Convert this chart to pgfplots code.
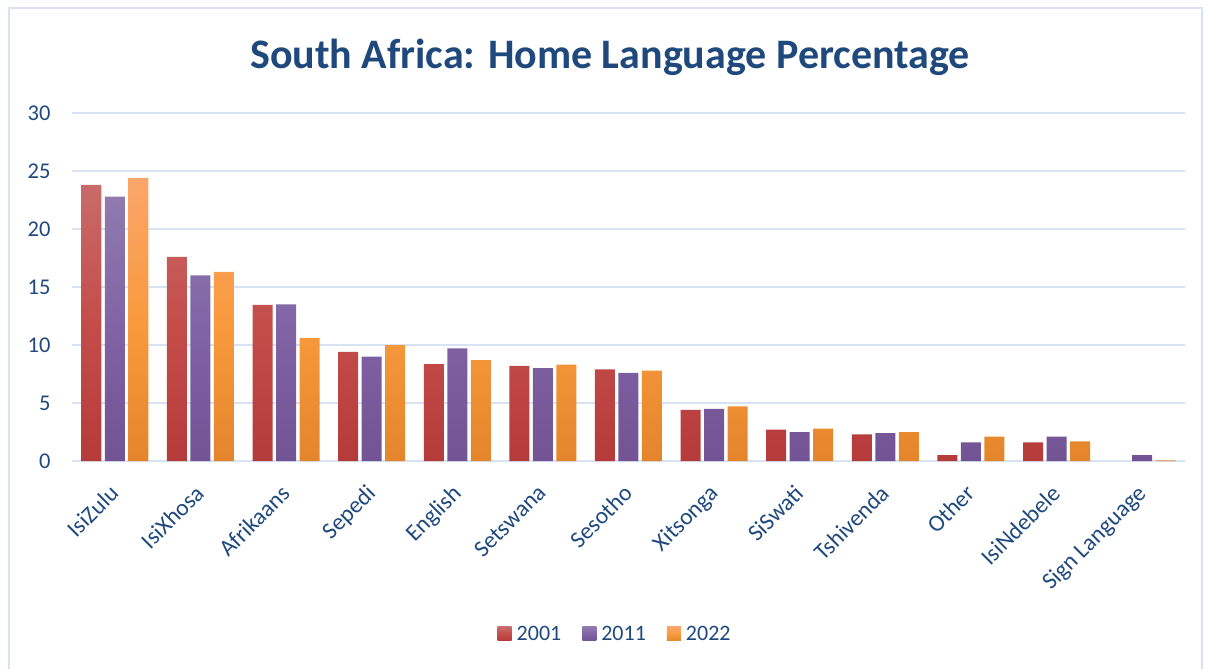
\documentclass[border=0pt]{standalone}
\usepackage{pgfplots}
\usepackage{pgfplotstable}
\pgfplotsset{compat=1.18}
\usepackage{fontspec}
\setmainfont{Carlito}
\definecolor{gridc}{HTML}{D7E2F2}
\definecolor{txt}{HTML}{1F497D}
\definecolor{rA}{HTML}{C86B6A}\definecolor{rB}{HTML}{C44D4A}\definecolor{rC}{HTML}{B53B3B}
\definecolor{pA}{HTML}{907AAE}\definecolor{pB}{HTML}{8063A5}\definecolor{pC}{HTML}{725394}
\definecolor{oA}{HTML}{FAA56A}\definecolor{oB}{HTML}{F99A3E}\definecolor{oC}{HTML}{E5852B}
\pgfplotstableread{
idx y2001 y2011 y2022
0 23.8 22.8 24.4
1 17.6 16.0 16.3
2 13.45 13.5 10.6
3 9.4 9.0 10.0
4 8.35 9.7 8.7
5 8.2 8.0 8.3
6 7.9 7.6 7.8
7 4.4 4.5 4.7
8 2.7 2.5 2.8
9 2.3 2.4 2.5
10 0.5 1.6 2.1
11 1.6 2.1 1.7
12 nan 0.5 0.05
}\datatable
\begin{document}
\begin{tikzpicture}
\begin{axis}[
  scale only axis,
  width=1113pt, height=348pt,
  ymin=0, ymax=30, xmin=-0.5, xmax=12.5,
  ytick={0,5,...,30}, xtick={0,...,12},
  xticklabels={IsiZulu,IsiXhosa,Afrikaans,Sepedi,English,Setswana,Sesotho,Xitsonga,SiSwati,Tshivenda,Other,IsiNdebele,Sign Language},
  ymajorgrids, grid style={gridc, line width=2pt},
  axis line style={draw=none},
  major tick length=0pt,
  /pgf/number format/assume math mode=true,
  yticklabel style={font=\fontsize{22.5}{26}\selectfont, text=txt, xshift=-18pt},
  xticklabel style={font=\fontsize{23.5}{27}\selectfont, text=txt, xshift=-6.5pt, yshift=-17.5pt, rotate=45, anchor=north east},
  ybar=3.5pt, bar width=20pt,
  legend style={at={(0.488,-0.497)}, anchor=center, draw=none, legend columns=3,
    font=\fontsize{22}{26}\selectfont, text=txt,
    /tikz/every odd column/.append style={column sep=3pt},
    /tikz/every even column/.append style={column sep=19pt}},
  legend image code/.code={\path[#1,draw=none] (0pt,-7pt) rectangle (14pt,7pt);},
]
\addplot[draw=none, top color=rA, bottom color=rC, middle color=rB] table[x=idx,y=y2001] {\datatable};
\addplot[draw=none, top color=pA, bottom color=pC, middle color=pB] table[x=idx,y=y2011] {\datatable};
\addplot[draw=none, top color=oA, bottom color=oC, middle color=oB] table[x=idx,y=y2022] {\datatable};
\legend{2001,2011,2022}
\coordinate (bl) at (rel axis cs:0,0);
\end{axis}
\pgfresetboundingbox
\useasboundingbox ([shift={(-72pt,-208pt)}]bl) rectangle ([shift={(1133pt,461pt)}]bl);
\draw[gridc, line width=1.5pt] ([shift={(-63pt,-220pt)}]bl) rectangle ([shift={(1130pt,453pt)}]bl);
\node[font=\fontsize{42}{46}\selectfont\bfseries, text=txt] at ([shift={(538pt,404pt)}]bl) {South Africa: Home Language Percentage};
\end{tikzpicture}
\end{document}
